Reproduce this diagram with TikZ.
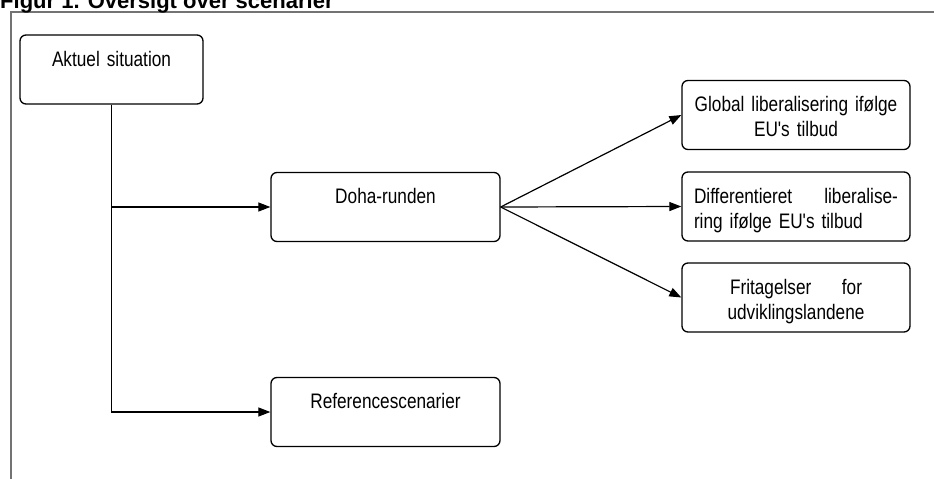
\documentclass[tikz,border=0pt]{standalone}
\usepackage{fontspec}
\setmainfont{Liberation Sans}
\newfontfamily\narrowfont{Liberation Sans}[FakeStretch=0.82]
\usetikzlibrary{arrows.meta}
\definecolor{framegray}{gray}{0.45}

\begin{document}
\begin{tikzpicture}[x=1pt, y=-1pt,
		scen/.style={draw, line width=1.3pt, rounded corners=6pt, inner xsep=12pt, inner ysep=0pt,
			text height=31pt, text depth=38pt, text width=#1,
			font=\narrowfont\fontsize{21}{25}\selectfont},
		link/.style={line width=1.2pt, -{Triangle[length=12pt, width=9pt]}}]
					\useasboundingbox (0,0) rectangle (934,479);

					\draw[framegray, line width=1.6pt] (11,479) -- (11,12) -- (934,12);
					\node[anchor=base west, inner sep=0pt, font=\bfseries\fontsize{22}{26}\selectfont] (titel) at (0,8.5) {Figur 1. Oversigt over scenarier};

					\draw
						(111.5,69.5) node[scen=159pt, align=center] (aktuel) {Aktuel situation}

						(385.5,207) node[scen=205pt, align=center] (doha) {Doha-runden}
						(385.5,412) node[scen=205pt, align=center] (ref) {Referencescenarier}

						(796,115) node[scen=204pt, align=center] (global) {Global liberalisering ifølge\\EU's tilbud}
						(796,206.5) node[scen=204pt, align=left] (diff) {Differentieret\hfill liberalise-\\ring ifølge EU's tilbud}
						(796,297.5) node[scen=204pt, align=center] (frit) {\makebox[132pt][s]{Fritagelser\hfill for}\\udviklingslandene};

					\draw[link] (aktuel.south) |- (doha.west);
					\draw[link] (aktuel.south) |- (ref.west);

					\draw[link] (doha.east) -- (global.west);
					\draw[link] (doha.east) -- (diff.west);
					\draw[link] (doha.east) -- (frit.west);
				\end{tikzpicture}
\end{document}
